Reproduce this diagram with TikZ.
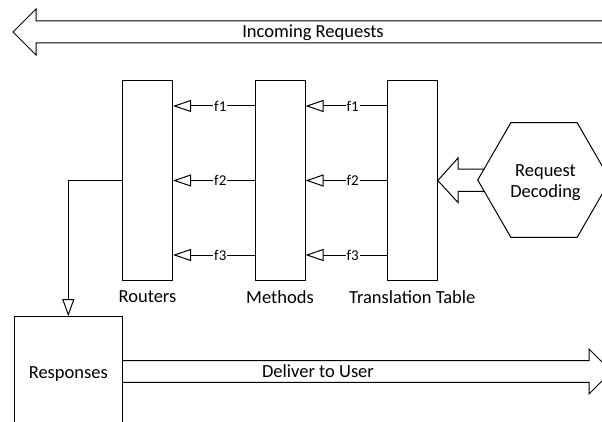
\documentclass[tikz,border=0pt]{standalone}
\usepackage{fontspec}
\setmainfont{Carlito}
\usetikzlibrary{arrows.meta,shapes.geometric,calc}
\begin{document}
\begin{tikzpicture}[x=1pt,y=-1pt,line width=1pt,
  lbl/.style={font=\fontsize{18.5}{21}\selectfont,inner sep=0pt},
  flbl/.style={font=\fontsize{15}{16}\selectfont,fill=white,inner sep=1pt},
  tallbox/.style={draw,rectangle,minimum width=50pt,minimum height=199pt,inner sep=0pt},
  farrow/.style={-{Triangle[open,length=18pt,width=12pt]}}
]
\useasboundingbox (0,0) rectangle (602,422);
\clip (0,0) rectangle (602,422);
% top block arrow
\draw[line join=miter] (610,21) -- (36,21) -- (36,9) -- (13,32) -- (36,55) -- (36,43) -- (610,43);
\node[lbl,anchor=base] (inc) at (313,38) {Incoming Requests};
% boxes
\node[tallbox] (rt) at (147.5,180.5) {};
\node[tallbox] (mt) at (280,180.5) {};
\node[tallbox] (tt) at (412.3,180.5) {};
\node[lbl] (rtl) at (147.5,297) {Routers};
\node[lbl] (mtl) at (280,297) {Methods};
\node[lbl] (ttl) at (412.3,297) {Translation Table};
% f arrows
\foreach \i/\dy in {1/-74.5,2/0,3/74.5}{
  \draw[farrow] ($(mt.west)+(0,\dy)$) -- node[flbl,pos=0.42] {f\i} ($(rt.east)+(0,\dy)$);
  \draw[farrow] ($(tt.west)+(0,\dy)$) -- node[flbl,pos=0.42] {f\i} ($(mt.east)+(0,\dy)$);
}
% hexagon
\node[draw,regular polygon,regular polygon sides=6,minimum size=132.5pt,inner sep=0pt] (hex) at (544,180) {};
\node[lbl,align=center] (hext) at (545.5,183) {Request\\Decoding};
% block arrow into translation table
\draw[line join=miter] (484.5,169.2) -- (458,169.2) -- (458,158) -- (tt.east) -- (458,202.5) -- (458,191.5) -- (484.5,191.5);
% responses
\node[draw,rectangle,minimum width=108pt,minimum height=112pt,inner sep=0pt] (rs) at (68.3,372.7) {};
\node[lbl,anchor=base] (rst) at (68.3,378.5) {Responses};
\draw[-{Triangle[open,length=17pt,width=12pt]}] (rt.west) -| (rs.north);
% bottom block arrow
\draw[line join=miter] (rs.east |- 0,360.7) -- (589,360.7) -- (589,349) -- (611.5,371.5) -- (589,394) -- (589,382.3) -- (rs.east |- 0,382.3);
\node[lbl,anchor=base] (dlv) at (318,377.5) {Deliver to User};
\end{tikzpicture}
\end{document}
